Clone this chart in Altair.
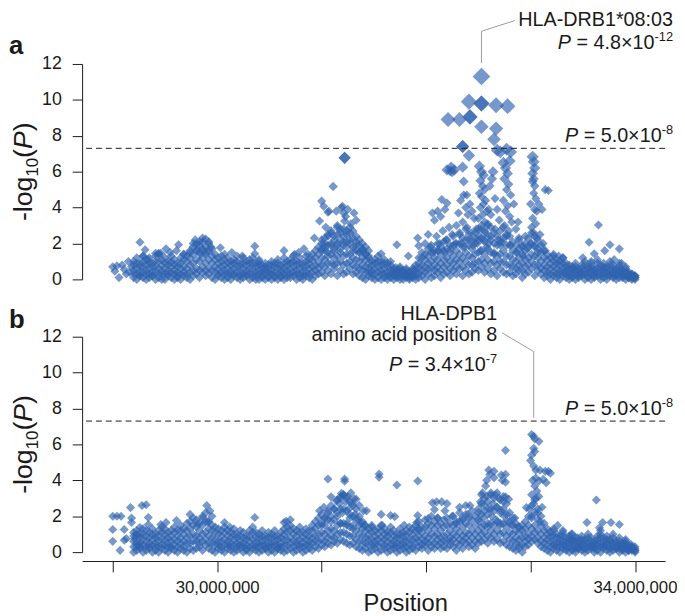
import altair as alt
import pandas as pd

# ---------------- data ----------------
# Marker positions (Mb) of the densely genotyped band, shared by both analyses
POS = [
    29.20, 29.23, 29.26, 29.29, 29.32, 29.35, 29.38, 29.41, 29.44, 29.47,
    29.50, 29.53, 29.56, 29.59, 29.62, 29.65, 29.68, 29.71, 29.74, 29.77,
    29.80, 29.83, 29.86, 29.89, 29.92, 29.95, 29.98, 30.01, 30.04, 30.07,
    30.10, 30.13, 30.16, 30.19, 30.22, 30.25, 30.28, 30.31, 30.34, 30.37,
    30.40, 30.43, 30.46, 30.49, 30.52, 30.55, 30.58, 30.61, 30.64, 30.67,
    30.70, 30.73, 30.76, 30.79, 30.82, 30.85, 30.88, 30.91, 30.94, 30.97,
    31.00, 31.03, 31.06, 31.09, 31.12, 31.15, 31.18, 31.21, 31.24, 31.27,
    31.30, 31.33, 31.36, 31.39, 31.42, 31.45, 31.48, 31.51, 31.54, 31.57,
    31.60, 31.63, 31.66, 31.69, 31.72, 31.75, 31.78, 31.81, 31.84, 31.87,
    31.90, 31.93, 31.96, 31.99, 32.02, 32.05, 32.08, 32.11, 32.14, 32.17,
    32.20, 32.23, 32.26, 32.29, 32.32, 32.35, 32.38, 32.41, 32.44, 32.47,
    32.50, 32.53, 32.56, 32.59, 32.62, 32.65, 32.68, 32.71, 32.74, 32.77,
    32.80, 32.83, 32.86, 32.89, 32.92, 32.95, 32.98, 33.01, 33.04, 33.07,
    33.10, 33.13, 33.16, 33.19, 33.22, 33.25, 33.28, 33.31, 33.34, 33.37,
    33.40, 33.43, 33.46, 33.49, 33.52, 33.55, 33.58, 33.61, 33.64, 33.67,
    33.70, 33.73, 33.76, 33.79, 33.82, 33.85, 33.88, 33.91, 33.94, 33.97, 34.00,
]

# panel a: -log10(P) of five markers at each band position (top .. bottom)
A_TOP = [
    1.0, 1.2, 0.9, 1.3, 1.1, 1.2, 0.9, 1.3, 1.4, 1.1,
    1.2, 1.0, 1.3, 1.1, 0.9, 1.2, 1.4, 1.3, 1.6, 1.8,
    2.0, 1.9, 2.1, 1.8, 2.0, 1.7, 1.4, 1.2, 1.3, 1.1,
    1.2, 1.0, 1.1, 1.3, 0.9, 1.2, 1.0, 1.1, 1.2, 0.9,
    1.0, 0.8, 0.9, 0.8, 1.0, 0.9, 1.1, 0.8, 1.2, 1.0,
    1.1, 1.3, 1.0, 1.2, 0.9, 1.3, 1.1, 1.4, 1.6, 1.8,
    2.2, 2.0, 2.4, 2.6, 2.2, 2.5, 2.8, 2.4, 2.7, 2.6,
    2.3, 2.1, 1.9, 1.6, 1.4, 1.2, 1.0, 1.1, 1.3, 1.0,
    1.1, 0.9, 1.0, 0.6, 0.5, 0.7, 0.5, 0.6, 0.4, 0.6,
    0.8, 1.2, 1.5, 1.4, 1.7, 1.9, 1.6, 2.0, 1.8, 2.1,
    2.2, 1.9, 2.4, 2.0, 2.6, 2.3, 2.8, 2.5, 2.2, 2.6,
    2.8, 3.0, 2.7, 3.1, 2.9, 2.6, 2.4, 2.7, 2.9, 2.5,
    2.4, 2.1, 1.9, 2.2, 1.8, 2.0, 2.3, 2.6, 2.4, 2.2,
    1.9, 1.6, 1.4, 1.2, 1.3, 1.1, 1.0, 1.2, 0.9, 0.8,
    0.7, 0.9, 0.6, 0.8, 1.0, 0.7, 0.9, 0.6, 1.1, 0.8,
    0.9, 0.7, 1.0, 0.8, 0.6, 0.9, 0.5, 0.7, 0.4, 0.3, 0.2,
]
A_Q3 = [
    0.8, 0.9, 0.7, 1.0, 0.8, 0.9, 0.7, 1.0, 1.0, 0.8,
    0.9, 0.8, 1.0, 0.8, 0.7, 0.9, 1.1, 1.0, 1.2, 1.4,
    1.6, 1.5, 1.7, 1.4, 1.6, 1.3, 1.1, 0.9, 1.0, 0.8,
    0.9, 0.8, 0.9, 1.0, 0.7, 0.9, 0.8, 0.9, 0.9, 0.7,
    0.8, 0.6, 0.7, 0.6, 0.8, 0.7, 0.9, 0.6, 0.9, 0.8,
    0.9, 1.0, 0.8, 0.9, 0.7, 1.0, 0.9, 1.1, 1.2, 1.4,
    1.7, 1.6, 1.9, 2.0, 1.7, 1.9, 2.2, 1.9, 2.1, 2.0,
    1.8, 1.6, 1.5, 1.2, 1.1, 0.9, 0.8, 0.9, 1.0, 0.8,
    0.9, 0.7, 0.8, 0.5, 0.4, 0.6, 0.4, 0.5, 0.3, 0.5,
    0.6, 0.9, 1.2, 1.1, 1.3, 1.5, 1.2, 1.6, 1.4, 1.6,
    1.7, 1.5, 1.9, 1.6, 2.0, 1.8, 2.2, 1.9, 1.7, 2.0,
    2.2, 2.3, 2.1, 2.4, 2.2, 2.0, 1.9, 2.1, 2.3, 1.9,
    1.9, 1.6, 1.5, 1.7, 1.4, 1.6, 1.8, 2.0, 1.9, 1.7,
    1.5, 1.2, 1.1, 0.9, 1.0, 0.9, 0.8, 0.9, 0.7, 0.6,
    0.6, 0.7, 0.5, 0.6, 0.8, 0.6, 0.7, 0.5, 0.9, 0.6,
    0.7, 0.6, 0.8, 0.6, 0.5, 0.7, 0.4, 0.6, 0.3, 0.3, 0.2,
]
A_MID = [
    0.5, 0.6, 0.4, 0.7, 0.5, 0.6, 0.4, 0.7, 0.6, 0.5,
    0.6, 0.5, 0.7, 0.5, 0.4, 0.6, 0.7, 0.6, 0.8, 0.9,
    1.1, 1.0, 1.2, 0.9, 1.1, 0.9, 0.7, 0.6, 0.7, 0.5,
    0.6, 0.5, 0.6, 0.7, 0.4, 0.6, 0.5, 0.6, 0.6, 0.4,
    0.5, 0.4, 0.5, 0.4, 0.5, 0.4, 0.6, 0.4, 0.6, 0.5,
    0.6, 0.7, 0.5, 0.6, 0.4, 0.7, 0.6, 0.7, 0.8, 0.9,
    1.2, 1.1, 1.3, 1.4, 1.2, 1.3, 1.5, 1.3, 1.4, 1.4,
    1.2, 1.1, 1.0, 0.8, 0.7, 0.6, 0.5, 0.6, 0.7, 0.5,
    0.6, 0.4, 0.5, 0.3, 0.3, 0.4, 0.3, 0.3, 0.2, 0.3,
    0.4, 0.6, 0.8, 0.7, 0.9, 1.0, 0.8, 1.1, 0.9, 1.1,
    1.2, 1.0, 1.3, 1.1, 1.4, 1.2, 1.5, 1.3, 1.2, 1.4,
    1.5, 1.6, 1.4, 1.7, 1.5, 1.4, 1.3, 1.4, 1.6, 1.3,
    1.3, 1.1, 1.0, 1.2, 0.9, 1.1, 1.2, 1.4, 1.3, 1.2,
    1.0, 0.8, 0.7, 0.6, 0.7, 0.6, 0.5, 0.6, 0.5, 0.4,
    0.4, 0.5, 0.3, 0.4, 0.5, 0.4, 0.5, 0.3, 0.6, 0.4,
    0.5, 0.4, 0.5, 0.4, 0.3, 0.5, 0.3, 0.4, 0.2, 0.2, 0.1,
]
A_Q1 = [
    0.3, 0.3, 0.2, 0.4, 0.3, 0.3, 0.2, 0.4, 0.3, 0.3,
    0.3, 0.3, 0.4, 0.3, 0.2, 0.3, 0.4, 0.3, 0.4, 0.5,
    0.6, 0.5, 0.7, 0.5, 0.6, 0.5, 0.4, 0.3, 0.4, 0.3,
    0.3, 0.3, 0.3, 0.4, 0.2, 0.3, 0.3, 0.3, 0.3, 0.2,
    0.3, 0.2, 0.3, 0.2, 0.3, 0.2, 0.3, 0.2, 0.3, 0.3,
    0.3, 0.4, 0.3, 0.3, 0.2, 0.4, 0.3, 0.4, 0.5, 0.6,
    0.8, 0.7, 0.9, 0.9, 0.8, 0.9, 1.0, 0.8, 0.9, 1.0,
    0.8, 0.7, 0.6, 0.5, 0.4, 0.4, 0.3, 0.3, 0.4, 0.3,
    0.3, 0.2, 0.3, 0.2, 0.2, 0.2, 0.2, 0.2, 0.1, 0.2,
    0.2, 0.3, 0.5, 0.4, 0.6, 0.6, 0.5, 0.7, 0.5, 0.7,
    0.8, 0.6, 0.9, 0.7, 1.0, 0.7, 1.0, 0.8, 0.8, 0.9,
    1.0, 1.1, 0.9, 1.1, 0.9, 1.0, 0.8, 1.0, 1.0, 0.8,
    0.8, 0.7, 0.6, 0.8, 0.5, 0.7, 0.8, 1.0, 0.8, 0.8,
    0.6, 0.5, 0.4, 0.3, 0.4, 0.3, 0.3, 0.4, 0.3, 0.2,
    0.2, 0.3, 0.2, 0.3, 0.3, 0.2, 0.3, 0.2, 0.4, 0.2,
    0.3, 0.2, 0.3, 0.2, 0.2, 0.3, 0.1, 0.2, 0.1, 0.1, 0.0,
]
A_LO = [
    0.1, 0.0, 0.2, 0.1, 0.0, 0.1, 0.2, 0.0, 0.1, 0.0,
    0.0, 0.2, 0.1, 0.0, 0.1, 0.0, 0.2, 0.1, 0.0, 0.2,
    0.3, 0.1, 0.4, 0.2, 0.3, 0.1, 0.0, 0.2, 0.1, 0.0,
    0.1, 0.0, 0.2, 0.1, 0.0, 0.1, 0.2, 0.0, 0.1, 0.0,
    0.0, 0.1, 0.0, 0.1, 0.0, 0.1, 0.0, 0.1, 0.0, 0.1,
    0.1, 0.2, 0.0, 0.1, 0.0, 0.2, 0.1, 0.0, 0.2, 0.3,
    0.4, 0.2, 0.5, 0.3, 0.6, 0.2, 0.5, 0.3, 0.4, 0.6,
    0.3, 0.4, 0.2, 0.1, 0.0, 0.2, 0.1, 0.0, 0.1, 0.0,
    0.1, 0.0, 0.1, 0.0, 0.1, 0.0, 0.0, 0.1, 0.0, 0.1,
    0.0, 0.1, 0.2, 0.0, 0.3, 0.1, 0.2, 0.4, 0.1, 0.3,
    0.4, 0.2, 0.5, 0.3, 0.6, 0.2, 0.5, 0.3, 0.4, 0.6,
    0.5, 0.7, 0.4, 0.6, 0.3, 0.5, 0.2, 0.6, 0.4, 0.3,
    0.4, 0.2, 0.3, 0.5, 0.1, 0.3, 0.4, 0.6, 0.2, 0.5,
    0.3, 0.1, 0.2, 0.0, 0.2, 0.1, 0.0, 0.2, 0.1, 0.0,
    0.1, 0.0, 0.1, 0.2, 0.0, 0.1, 0.0, 0.1, 0.2, 0.0,
    0.1, 0.0, 0.2, 0.1, 0.0, 0.1, 0.2, 0.0, 0.1, 0.0, 0.1,
]

# panel a: individual markers standing out of the band (position Mb, -log10 P)
A_LEFT = [(29.00, 0.70), (29.02, 0.45), (29.04, 0.75), (29.06, 0.10), (29.09, 0.80),
          (29.11, 0.55), (29.13, 0.30), (29.15, 1.00), (29.18, 0.70), (29.16, 0.40)]
A_WEST = [(29.26, 2.07), (29.29, 1.30), (29.31, 1.65), (29.34, 1.10), (29.41, 1.45),
          (29.44, 1.45), (29.46, 1.45), (29.51, 1.70), (29.55, 1.50), (29.61, 1.60),
          (29.63, 1.93), (29.68, 1.40), (29.74, 1.50), (29.77, 2.00), (29.79, 2.20),
          (29.81, 1.70), (29.83, 2.10), (29.84, 1.40), (29.86, 2.30), (29.87, 1.60),
          (29.89, 2.25), (29.90, 1.50), (29.92, 2.10), (29.94, 1.80), (30.03, 1.76),
          (30.07, 1.40), (30.14, 1.50), (30.24, 1.30), (30.36, 1.85), (30.36, 1.43),
          (30.40, 1.10), (30.64, 1.60), (30.74, 1.40), (30.78, 1.50), (30.83, 1.70),
          (30.87, 1.40), (30.93, 2.30)]
A_MOUND = [(31.00, 1.6), (31.00, 2.0), (31.03, 1.8), (31.03, 2.3), (31.06, 1.5), (31.06, 2.5),
           (31.09, 1.9), (31.09, 2.7), (31.12, 1.6), (31.12, 2.4), (31.15, 2.0), (31.15, 2.9),
           (31.18, 1.7), (31.18, 2.6), (31.21, 2.1), (31.21, 2.8), (31.24, 1.8), (31.24, 2.5),
           (31.27, 2.2), (31.27, 2.9), (31.30, 1.6), (31.30, 2.7), (31.33, 1.9), (31.33, 2.4),
           (31.36, 1.5), (31.36, 2.2), (31.39, 1.7), (31.39, 2.0), (31.42, 1.4), (31.42, 1.8),
           (31.45, 1.3), (31.04, 2.9), (30.98, 3.25), (31.00, 4.36), (31.02, 4.07),
           (31.06, 3.74), (31.07, 3.80), (31.11, 5.17), (31.14, 3.80), (31.15, 3.00),
           (31.19, 4.00), (31.20, 4.07), (31.21, 3.70), (31.22, 3.25), (31.23, 3.50),
           (31.25, 3.90), (31.28, 3.10), (31.31, 3.70), (31.33, 3.30), (31.22, 6.77),
           (31.22, 6.77), (31.40, 1.60), (31.45, 1.60), (31.57, 1.43)]
A_RAMP = [(31.72, 1.93), (31.71, 0.66), (31.83, 1.30), (31.92, 2.30), (31.93, 1.87),
          (31.99, 2.00), (32.02, 2.50), (32.04, 1.80), (32.06, 3.70), (32.07, 1.50),
          (32.08, 3.30), (32.10, 2.40), (32.11, 3.80), (32.12, 1.60), (32.13, 2.00),
          (32.14, 3.50), (32.15, 4.45), (32.16, 2.70), (32.18, 3.90), (32.18, 1.50),
          (32.19, 2.20), (32.20, 4.25), (32.22, 2.90), (32.24, 1.70), (32.25, 2.50),
          (32.28, 2.00), (32.20, 6.10), (32.23, 6.05), (32.24, 6.25), (32.25, 6.00),
          (32.27, 6.10)]
A_TOPS = [(32.21, 8.90), (32.32, 8.90), (32.42, 9.05), (32.42, 9.05), (32.41, 9.90),
          (32.53, 11.30), (32.53, 9.80), (32.53, 9.80), (32.67, 9.70), (32.78, 9.65),
          (32.53, 8.50), (32.67, 8.40), (32.65, 7.80), (32.35, 7.40), (32.35, 7.40),
          (32.41, 6.90), (32.77, 7.26), (32.71, 7.10), (32.81, 7.10), (32.68, 7.20),
          (32.35, 6.25), (32.36, 5.45), (32.39, 4.70)]
A_COL0 = [(32.29, 3.0), (32.31, 3.7), (32.32, 2.5), (32.33, 4.4), (32.34, 2.0), (32.35, 3.2),
          (32.36, 4.7), (32.37, 1.8), (32.38, 4.0), (32.39, 2.9), (32.40, 3.6), (32.41, 2.2),
          (32.42, 4.2), (32.43, 2.6), (32.44, 3.8), (32.45, 1.9), (32.46, 3.4), (32.47, 2.3),
          (32.48, 2.8)]
A_COL1 = [(32.51, 6.3), (32.53, 6.0), (32.55, 5.8), (32.52, 5.5), (32.54, 5.2), (32.56, 5.0),
          (32.51, 4.8), (32.53, 4.6), (32.57, 4.4), (32.55, 4.2), (32.52, 4.0), (32.58, 3.8),
          (32.54, 3.6), (32.50, 3.4), (32.56, 3.2), (32.60, 3.9), (32.62, 3.6), (32.59, 3.0),
          (32.53, 2.8), (32.57, 2.6), (32.51, 2.4), (32.55, 2.2), (32.60, 2.0), (32.49, 2.0),
          (32.62, 2.4), (32.58, 1.8), (32.52, 1.6), (32.63, 5.6), (32.61, 5.2), (32.64, 6.0),
          (32.66, 4.5), (32.68, 3.9), (32.70, 3.3), (32.66, 2.8), (32.69, 2.2), (32.71, 1.9),
          (32.65, 1.5)]
A_COL2 = [(32.74, 6.5), (32.76, 6.2), (32.78, 5.9), (32.80, 6.6), (32.75, 5.6), (32.79, 5.3),
          (32.77, 5.0), (32.81, 4.7), (32.74, 4.4), (32.78, 4.1), (32.76, 3.8), (32.80, 3.5),
          (32.82, 3.2), (32.75, 3.0), (32.79, 2.7), (32.77, 2.4), (32.73, 2.1), (32.81, 1.9),
          (32.84, 4.2), (32.88, 3.2), (32.86, 2.8), (32.89, 2.3), (32.92, 1.9), (32.95, 2.4),
          (32.97, 1.7), (32.87, 1.5), (32.93, 1.3)]
A_COL3 = [(33.02, 6.83), (33.03, 6.55), (33.04, 6.20), (33.02, 5.90), (33.03, 5.60),
          (33.02, 5.45), (33.04, 5.20), (33.03, 4.80), (33.05, 4.50), (33.00, 4.20),
          (33.04, 3.90), (33.06, 3.80), (33.02, 3.40), (33.05, 3.10), (33.01, 2.90),
          (33.03, 2.60), (33.06, 2.30), (33.00, 2.00), (33.04, 1.80), (33.14, 5.00),
          (33.17, 4.95), (33.08, 4.20), (33.11, 3.90), (33.09, 2.50), (33.12, 2.00),
          (33.14, 1.60), (33.07, 1.50)]
A_EAST = [(33.22, 1.40), (33.27, 1.30), (33.31, 1.20), (33.50, 1.20), (33.56, 2.07),
          (33.61, 1.43), (33.65, 3.03), (33.71, 1.60), (33.76, 1.93), (33.85, 1.70),
          (33.87, 0.90), (33.92, 0.37), (33.98, 0.15), (33.58, 1.00), (33.80, 1.10)]

# panel b: -log10(P) of the five band markers, conditioned analysis
B_TOP = [
    1.1, 1.2, 1.0, 1.3, 1.2, 1.1, 1.3, 1.0, 1.2, 1.4,
    1.3, 1.1, 1.2, 1.4, 1.2, 1.5, 1.3, 1.6, 1.7, 1.9,
    1.8, 1.6, 2.0, 2.2, 1.7, 1.5, 1.4, 1.3, 1.2, 1.4,
    1.2, 1.1, 1.3, 1.0, 1.2, 1.1, 0.9, 1.2, 1.4, 1.1,
    1.0, 1.2, 0.9, 1.1, 1.0, 1.2, 0.9, 1.1, 1.3, 1.4,
    1.5, 1.3, 1.2, 1.4, 1.1, 1.3, 1.2, 1.5, 1.7, 1.9,
    2.1, 1.9, 2.3, 2.6, 2.4, 2.9, 3.1, 3.2, 3.0, 2.8,
    2.6, 2.4, 2.0, 1.7, 1.5, 1.3, 1.4, 1.2, 1.3, 1.5,
    1.3, 1.1, 1.4, 1.2, 1.0, 1.3, 1.1, 1.2, 1.4, 1.3,
    1.5, 1.7, 1.4, 1.8, 1.6, 2.0, 1.7, 1.9, 1.6, 1.8,
    1.9, 1.6, 2.0, 1.7, 2.2, 1.8, 2.1, 1.9, 2.3, 2.0,
    2.4, 2.7, 3.0, 2.8, 3.2, 3.0, 3.3, 2.9, 3.1, 2.7,
    2.2, 1.9, 1.6, 1.4, 1.5, 1.7, 2.0, 2.6, 2.9, 2.4,
    2.0, 1.6, 1.3, 1.1, 1.2, 1.0, 0.9, 1.1, 0.8, 0.9,
    0.7, 0.8, 0.6, 0.9, 0.7, 1.0, 0.8, 0.6, 0.9, 1.0,
    0.8, 0.9, 0.7, 1.0, 0.6, 0.8, 0.5, 0.7, 0.4, 0.3, 0.3,
]
B_Q3 = [
    0.9, 0.9, 0.8, 1.0, 0.9, 0.8, 1.0, 0.8, 0.9, 1.1,
    1.0, 0.8, 0.9, 1.1, 0.9, 1.2, 1.0, 1.2, 1.3, 1.5,
    1.4, 1.2, 1.5, 1.7, 1.3, 1.2, 1.1, 1.0, 0.9, 1.1,
    0.9, 0.8, 1.0, 0.8, 0.9, 0.8, 0.7, 0.9, 1.1, 0.8,
    0.8, 0.9, 0.7, 0.8, 0.8, 0.9, 0.7, 0.8, 1.0, 1.1,
    1.2, 1.0, 0.9, 1.1, 0.8, 1.0, 0.9, 1.2, 1.3, 1.5,
    1.6, 1.5, 1.8, 2.0, 1.8, 2.2, 2.4, 2.4, 2.3, 2.1,
    2.0, 1.8, 1.5, 1.3, 1.2, 1.0, 1.1, 0.9, 1.0, 1.2,
    1.0, 0.9, 1.1, 0.9, 0.8, 1.0, 0.9, 0.9, 1.1, 1.0,
    1.2, 1.3, 1.1, 1.4, 1.2, 1.5, 1.3, 1.5, 1.2, 1.4,
    1.5, 1.2, 1.5, 1.3, 1.7, 1.4, 1.6, 1.5, 1.8, 1.5,
    1.8, 2.1, 2.3, 2.1, 2.4, 2.3, 2.5, 2.2, 2.4, 2.1,
    1.7, 1.5, 1.2, 1.1, 1.2, 1.3, 1.5, 2.0, 2.2, 1.8,
    1.5, 1.2, 1.0, 0.9, 0.9, 0.8, 0.7, 0.9, 0.6, 0.7,
    0.6, 0.6, 0.5, 0.7, 0.6, 0.8, 0.6, 0.5, 0.7, 0.8,
    0.6, 0.7, 0.6, 0.8, 0.5, 0.6, 0.4, 0.6, 0.3, 0.3, 0.2,
]
B_MID = [
    0.6, 0.5, 0.5, 0.7, 0.6, 0.5, 0.7, 0.5, 0.6, 0.7,
    0.7, 0.5, 0.6, 0.7, 0.6, 0.8, 0.6, 0.8, 0.9, 1.0,
    0.9, 0.8, 1.0, 1.1, 0.9, 0.8, 0.7, 0.6, 0.6, 0.7,
    0.6, 0.5, 0.7, 0.5, 0.6, 0.5, 0.4, 0.6, 0.7, 0.5,
    0.5, 0.6, 0.4, 0.5, 0.5, 0.6, 0.4, 0.5, 0.7, 0.7,
    0.8, 0.6, 0.6, 0.7, 0.5, 0.7, 0.6, 0.8, 0.9, 1.0,
    1.1, 1.0, 1.2, 1.3, 1.2, 1.5, 1.6, 1.6, 1.5, 1.4,
    1.3, 1.2, 1.0, 0.9, 0.8, 0.7, 0.7, 0.6, 0.7, 0.8,
    0.7, 0.6, 0.7, 0.6, 0.5, 0.7, 0.6, 0.6, 0.7, 0.7,
    0.8, 0.9, 0.7, 0.9, 0.8, 1.0, 0.9, 1.0, 0.8, 0.9,
    1.0, 0.8, 1.0, 0.9, 1.1, 0.9, 1.1, 1.0, 1.2, 1.0,
    1.2, 1.4, 1.5, 1.4, 1.6, 1.5, 1.7, 1.5, 1.6, 1.4,
    1.1, 1.0, 0.8, 0.7, 0.8, 0.9, 1.0, 1.3, 1.5, 1.2,
    1.0, 0.8, 0.7, 0.6, 0.6, 0.5, 0.5, 0.6, 0.4, 0.5,
    0.4, 0.4, 0.3, 0.5, 0.4, 0.5, 0.4, 0.3, 0.5, 0.5,
    0.4, 0.5, 0.4, 0.5, 0.3, 0.4, 0.3, 0.4, 0.2, 0.2, 0.1,
]
B_Q1 = [
    0.3, 0.3, 0.3, 0.4, 0.3, 0.3, 0.4, 0.3, 0.3, 0.4,
    0.4, 0.3, 0.3, 0.4, 0.3, 0.5, 0.3, 0.5, 0.5, 0.6,
    0.6, 0.5, 0.6, 0.7, 0.5, 0.5, 0.4, 0.4, 0.3, 0.4,
    0.4, 0.3, 0.4, 0.3, 0.4, 0.3, 0.2, 0.3, 0.4, 0.3,
    0.3, 0.4, 0.2, 0.3, 0.3, 0.4, 0.2, 0.3, 0.4, 0.4,
    0.5, 0.3, 0.4, 0.4, 0.3, 0.4, 0.4, 0.5, 0.6, 0.6,
    0.7, 0.6, 0.8, 0.9, 0.8, 1.0, 1.1, 1.1, 1.0, 0.9,
    0.9, 0.7, 0.6, 0.5, 0.5, 0.4, 0.4, 0.4, 0.4, 0.5,
    0.4, 0.3, 0.4, 0.4, 0.3, 0.4, 0.4, 0.3, 0.4, 0.4,
    0.5, 0.6, 0.4, 0.6, 0.5, 0.6, 0.5, 0.7, 0.5, 0.6,
    0.6, 0.6, 0.7, 0.5, 0.7, 0.6, 0.8, 0.6, 0.8, 0.6,
    0.8, 1.0, 1.1, 0.9, 1.2, 1.0, 1.2, 1.0, 1.1, 0.9,
    0.7, 0.6, 0.5, 0.4, 0.4, 0.6, 0.7, 0.9, 1.1, 0.8,
    0.6, 0.5, 0.4, 0.3, 0.4, 0.3, 0.3, 0.4, 0.2, 0.3,
    0.2, 0.2, 0.2, 0.3, 0.2, 0.3, 0.3, 0.2, 0.3, 0.3,
    0.3, 0.3, 0.2, 0.3, 0.2, 0.2, 0.2, 0.2, 0.1, 0.1, 0.1,
]
B_LO = [
    0.0, 0.1, 0.2, 0.0, 0.1, 0.2, 0.0, 0.1, 0.0, 0.2,
    0.1, 0.0, 0.2, 0.1, 0.0, 0.2, 0.1, 0.0, 0.2, 0.1,
    0.2, 0.3, 0.1, 0.4, 0.2, 0.1, 0.0, 0.2, 0.1, 0.0,
    0.2, 0.1, 0.0, 0.1, 0.2, 0.0, 0.1, 0.0, 0.2, 0.1,
    0.0, 0.1, 0.2, 0.0, 0.1, 0.0, 0.2, 0.1, 0.0, 0.1,
    0.2, 0.0, 0.1, 0.2, 0.0, 0.1, 0.2, 0.1, 0.3, 0.2,
    0.4, 0.3, 0.5, 0.4, 0.6, 0.5, 0.7, 0.6, 0.5, 0.4,
    0.5, 0.3, 0.2, 0.1, 0.2, 0.0, 0.1, 0.2, 0.0, 0.1,
    0.2, 0.0, 0.1, 0.2, 0.0, 0.1, 0.2, 0.0, 0.1, 0.2,
    0.1, 0.3, 0.2, 0.4, 0.1, 0.3, 0.2, 0.4, 0.2, 0.3,
    0.2, 0.4, 0.3, 0.1, 0.4, 0.2, 0.5, 0.3, 0.4, 0.2,
    0.5, 0.6, 0.7, 0.5, 0.8, 0.6, 0.7, 0.5, 0.6, 0.4,
    0.3, 0.2, 0.1, 0.2, 0.0, 0.3, 0.4, 0.6, 0.7, 0.5,
    0.3, 0.2, 0.1, 0.0, 0.2, 0.1, 0.0, 0.2, 0.1, 0.0,
    0.1, 0.0, 0.2, 0.1, 0.0, 0.1, 0.2, 0.0, 0.1, 0.0,
    0.2, 0.1, 0.0, 0.1, 0.2, 0.0, 0.1, 0.0, 0.1, 0.2, 0.0,
]

B_LEFT = [(29.00, 2.00), (29.04, 2.00), (29.08, 2.00), (29.00, 1.26), (29.11, 1.26),
          (29.00, 0.60), (29.11, 0.66), (29.13, 0.75), (29.07, 0.10), (29.17, 2.48),
          (29.18, 1.90), (29.18, 1.65), (29.23, 1.00), (29.25, 0.40), (29.28, 2.60),
          (29.32, 2.64), (29.34, 1.93), (29.26, 1.37), (29.34, 1.54), (29.21, 0.75)]
B_WEST = [(29.46, 1.54), (29.51, 1.65), (29.61, 1.76), (29.74, 2.10), (29.81, 1.60),
          (29.86, 1.90), (29.90, 2.60), (29.91, 1.70), (29.93, 2.30), (29.95, 2.00),
          (30.07, 1.65), (30.12, 1.40), (30.36, 1.93), (30.64, 1.65), (30.66, 1.72),
          (30.70, 1.80)]
B_MOUND = [(30.98, 2.30), (31.02, 2.50), (31.06, 4.07), (31.09, 3.08), (31.14, 2.86),
           (31.18, 3.00), (31.19, 3.27), (31.21, 3.20), (31.22, 4.07), (31.22, 3.95),
           (31.25, 3.10), (31.28, 3.30), (31.31, 2.97), (31.33, 2.95), (31.36, 2.60),
           (31.40, 2.30), (31.43, 2.30), (31.48, 1.49), (31.00, 1.5), (31.03, 1.9),
           (31.06, 2.2), (31.09, 1.7), (31.12, 2.4), (31.15, 2.0), (31.17, 2.7),
           (31.20, 2.2), (31.23, 2.8), (31.26, 2.4), (31.29, 2.7), (31.32, 2.1),
           (31.35, 1.8), (31.38, 1.6), (31.41, 1.5), (31.24, 1.6), (31.18, 1.6),
           (31.27, 1.9), (31.30, 1.5)]
B_MID_REGION = [(31.55, 4.35), (31.55, 4.17), (31.57, 2.10), (31.58, 1.50), (31.66, 2.04),
                (31.70, 1.98), (31.72, 3.74), (31.79, 1.50), (31.92, 3.96), (31.92, 2.04),
                (31.91, 1.65), (31.93, 1.20), (32.02, 1.87), (32.06, 2.75), (32.10, 2.80),
                (32.15, 2.80), (32.20, 2.70), (32.08, 2.37), (32.18, 2.30), (32.11, 1.90),
                (32.25, 2.00), (32.32, 2.50), (32.38, 2.60), (32.42, 2.60), (32.35, 1.90),
                (32.40, 2.10), (32.29, 1.60)]
B_CLUSTER = [(32.57, 3.69), (32.61, 4.33), (32.65, 4.50), (32.65, 4.15), (32.60, 4.57),
             (32.72, 4.30), (32.73, 4.00), (32.76, 5.67), (32.76, 4.33), (32.76, 3.90),
             (32.76, 3.08), (32.79, 2.95), (32.58, 4.00), (32.53, 3.20), (32.50, 2.2),
             (32.52, 2.8), (32.54, 3.3), (32.56, 2.6), (32.58, 3.1), (32.60, 2.4),
             (32.62, 3.3), (32.64, 2.7), (32.66, 3.2), (32.68, 2.5), (32.70, 3.0),
             (32.72, 2.3), (32.74, 2.8), (32.51, 1.7), (32.55, 1.9), (32.59, 1.6),
             (32.63, 2.0), (32.67, 1.8), (32.71, 1.6), (32.75, 2.0), (32.78, 1.7),
             (32.82, 1.5), (32.85, 1.9), (32.88, 1.4)]
B_COLUMN = [(33.01, 6.55), (33.03, 6.45), (33.04, 6.30), (33.08, 6.17), (33.03, 5.78),
            (33.04, 5.60), (33.01, 5.40), (33.00, 5.10), (33.03, 4.80), (33.05, 4.57),
            (33.09, 4.57), (33.14, 4.50), (33.17, 4.50), (33.19, 4.40), (33.05, 4.13),
            (33.08, 3.96), (33.12, 4.05), (33.15, 3.87), (33.04, 3.69), (33.02, 4.00),
            (33.01, 3.20), (33.05, 3.00), (33.08, 3.10), (33.06, 3.40), (32.96, 2.48),
            (32.99, 2.40), (33.03, 2.70), (33.07, 2.20), (33.11, 2.50), (33.01, 1.90),
            (33.09, 1.70)]
B_EAST = [(33.22, 1.30), (33.26, 1.49), (33.31, 1.20), (33.39, 1.00), (33.40, 1.00),
          (33.45, 0.80), (33.54, 1.65), (33.63, 2.90), (33.66, 1.36), (33.67, 1.20),
          (33.69, 1.65), (33.77, 1.65), (33.85, 1.54), (33.90, 0.48), (33.96, 0.44)]

THRESHOLD = [7.3]  # -log10(5.0e-8)

X_TICKS = [29, 30, 31, 32, 33, 34]
X_TICK_LABELS = ["", "30,000,000", "", "", "", "34,000,000"]
Y_TICKS = [0, 2, 4, 6, 8, 10, 12]

# leader lines from the annotations to the lead markers (Mb, -log10 P)
LEADER_A_POS = [32.85, 32.53, 32.53]
LEADER_A_VAL = [14.42, 13.82, 12.05]
LEADER_B_POS = [32.727, 33.03, 33.03]
LEADER_B_VAL = [12.22, 11.17, 7.49]

# ---------------- layout / style ----------------
W, H = 590, 556
X_DOMAIN = [28.7067, 34.2885]
YA_RANGE = [271, 53]
YB_RANGE = [547, 329]
BLUE = "#2f63ae"
INK = "#1a1a1a"
FONT = "Liberation Sans"

EM = {" ": 0.278, "=": 0.584, ".": 0.278, "×": 0.584, "-": 0.333, "P": 0.667,
      "l": 0.222, "o": 0.556, "g": 0.556, "(": 0.333, ")": 0.333}


def tw(s, fs):
    return sum(EM.get(c, 0.556) for c in s) * fs


def band_rows(*levels):
    rows = []
    for i, p in enumerate(POS):
        for lev in levels:
            if i < len(lev):
                rows.append((p, lev[i]))
    return rows


rows_a = band_rows(A_LO, A_Q1, A_MID, A_Q3, A_TOP) + A_LEFT + A_WEST + A_MOUND + A_RAMP + \
    A_COL0 + A_COL1 + A_COL2 + A_COL3 + A_EAST + A_TOPS
rows_b = band_rows(B_LO, B_Q1, B_MID, B_Q3, B_TOP) + B_LEFT + B_WEST + B_MOUND + \
    B_MID_REGION + B_CLUSTER + B_COLUMN + B_EAST
df_a = pd.DataFrame(rows_a, columns=["pos", "v"])
df_b = pd.DataFrame(rows_b, columns=["pos", "v"])

XS = alt.Scale(domain=X_DOMAIN, nice=False, zero=False)
YA = alt.Scale(domain=[0, 12], range=YA_RANGE, nice=False, zero=False)
YB = alt.Scale(domain=[0, 12], range=YB_RANGE, nice=False, zero=False)


def y_axis():
    return alt.Axis(values=Y_TICKS, orient="left", format="d", title=None, grid=False,
                    tickSize=10, labelPadding=11, labelFontSize=18, labelFont=FONT,
                    labelColor=INK, domainColor=INK, tickColor=INK)


label_expr = " : ".join(
    f"datum.value == {t} ? '{l}'" for t, l in zip(X_TICKS, X_TICK_LABELS) if l
) + " : ''"

x_axis = alt.Axis(values=X_TICKS, labelExpr=label_expr, grid=False, tickSize=11,
                  labelPadding=8, labelFontSize=17, labelFont=FONT, labelColor=INK,
                  labelFlush=False, labelOverlap=False, domainColor=INK, tickColor=INK,
                  title="Position", titleFont=FONT, titleFontSize=24,
                  titleFontWeight="normal", titleColor=INK, titleX=327, titleY=31,
                  titleBaseline="top", titleAlign="center")

pts_a = alt.Chart(df_a).mark_point(shape="diamond", filled=True, color=BLUE,
                                   opacity=0.66, strokeWidth=0).encode(
    x=alt.X("pos:Q", scale=XS, axis=None),
    y=alt.Y("v:Q", scale=YA, axis=y_axis()),
    size=alt.Size("v:Q", scale=alt.Scale(domain=[5, 11.3], range=[85, 320], clamp=True),
                  legend=None),
)
pts_b = alt.Chart(df_b).mark_point(shape="diamond", filled=True, color=BLUE,
                                   opacity=0.66, strokeWidth=0, size=85).encode(
    x=alt.X("pos:Q", scale=XS, axis=x_axis),
    y=alt.Y("v:Q", scale=YB, axis=y_axis()),
)

thr = pd.DataFrame({"v": THRESHOLD})
rule_a = alt.Chart(thr).mark_rule(color=INK, strokeDash=[6, 4], strokeWidth=1).encode(
    y=alt.Y("v:Q", scale=YA, axis=None))
rule_b = alt.Chart(thr).mark_rule(color=INK, strokeDash=[6, 4], strokeWidth=1).encode(
    y=alt.Y("v:Q", scale=YB, axis=None))

lead_a = alt.Chart(pd.DataFrame({"pos": LEADER_A_POS, "v": LEADER_A_VAL, "o": [0, 1, 2]})
                   ).mark_line(color="#9a9a9a", strokeWidth=1).encode(
    x=alt.X("pos:Q", scale=XS, axis=None), y=alt.Y("v:Q", scale=YA, axis=None), order="o:Q")
lead_b = alt.Chart(pd.DataFrame({"pos": LEADER_B_POS, "v": LEADER_B_VAL, "o": [0, 1, 2]})
                   ).mark_line(color="#9a9a9a", strokeWidth=1).encode(
    x=alt.X("pos:Q", scale=XS, axis=None), y=alt.Y("v:Q", scale=YB, axis=None), order="o:Q")

# ---------- annotation text (pixel layout) ----------
reg, ital = [], []
reg += [("HLA-DRB1*08:03", 598, 15, 20), ("HLA-DPB1", 420, 312, 20),
        ("amino acid position 8", 420, 333, 20)]


def add_formula(right, base, mant, exp):
    ws = tw(exp, 13)
    main = f" = {mant}×10"
    reg.append((exp, right, base - 8, 13))
    reg.append((main, right - ws, base, 20))
    ital.append(("P", right - ws - tw(main, 20), base, 20))


add_formula(598, 38, "4.8", "-12")
add_formula(598, 132, "5.0", "-8")
add_formula(598, 408, "5.0", "-8")
add_formula(420, 364, "3.4", "-7")

rot, rot_it = [], []


def add_ytitle(center):
    parts = [("-log", 27, 0, False), ("10", 17, 6, False), ("(", 27, 0, False),
             ("P", 27, 0, True), (")", 27, 0, False)]
    total = sum(tw(t, fs) for t, fs, _, _ in parts)
    y = center + total / 2
    for t, fs, dx, it in parts:
        (rot_it if it else rot).append((t, -51 + dx, y, fs))
        y -= tw(t, fs)


add_ytitle(162)
add_ytitle(438)

bold = [("a", -74, 43, 26), ("b", -74, 320, 26)]


def text_layer(rows, **mk):
    df = pd.DataFrame(rows, columns=["t", "px", "py", "fs"])
    return alt.Chart(df).mark_text(font=FONT, color=INK, baseline="alphabetic", **mk).encode(
        x=alt.X("px:Q", scale=None, axis=None),
        y=alt.Y("py:Q", scale=None, axis=None),
        size=alt.Size("fs:Q", scale=None, legend=None),
        text="t:N",
    )


t_reg = text_layer(reg, align="right")
t_ital = text_layer(ital, align="right", fontStyle="italic")
t_bold = text_layer(bold, align="left", fontWeight="bold")
t_rot = text_layer(rot, align="left", angle=270)
t_rot_it = text_layer(rot_it, align="left", angle=270, fontStyle="italic")

chart = alt.layer(
    pts_a, pts_b, rule_a, rule_b, lead_a, lead_b, t_reg, t_ital, t_bold, t_rot, t_rot_it
).resolve_scale(
    x="independent", y="independent", size="independent"
).properties(
    width=W, height=H,
    autosize=alt.AutoSizeParams(type="none"),
    padding={"left": 75, "top": 0, "right": 12, "bottom": 52},
).configure_view(stroke=None).configure_axis(grid=False)

chart.save("out.html", embed_options={"renderer": "svg", "actions": False})
